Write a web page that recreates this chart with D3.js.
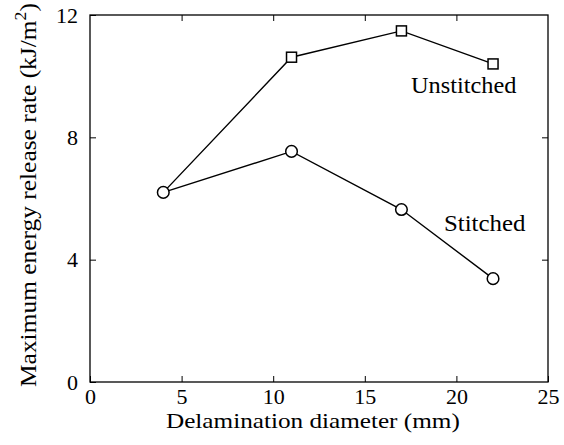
<!DOCTYPE html>
<html>
<head>
<meta charset="utf-8">
<script src="https://cdn.jsdelivr.net/npm/d3@7"></script>
<style>
  html, body { margin: 0; padding: 0; background: #fff; }
  svg { display: block; }
</style>
</head>
<body>
<svg id="chart" width="564" height="445"></svg>
<script>
// Delamination diameter (mm)
const diameters = [4, 11, 17, 22];
// Maximum energy release rate (kJ/m^2)
const unstitched = [6.2, 10.62, 11.48, 10.4];
const stitched = [6.2, 7.54, 5.64, 3.38];
const xTicks = [0, 5, 10, 15, 20, 25];
const yTicks = [0, 4, 8, 12];

const FONT = "'Liberation Serif', 'Times New Roman', Times, serif";
const margin = { left: 90, right: 16, top: 15, bottom: 63 };
const W = 564, H = 445;
const svg = d3.select("#chart").attr("font-family", FONT);

const x = d3.scaleLinear().domain([0, 25]).range([margin.left, W - margin.right]);
const y = d3.scaleLinear().domain([0, 12]).range([H - margin.bottom, margin.top]);

const tickLen = 6;
const axStyle = g => {
  g.attr("font-family", FONT).attr("font-size", 22);
  g.selectAll(".domain").remove();
  g.selectAll("line").attr("stroke", "#000").attr("stroke-width", 1);
  g.selectAll("text").attr("fill", "#000");
};

// stretch a text horizontally (in its own frame) to a given width
function fitWidth(sel, width) {
  const w = sel.node().getBBox().width;
  const bx = +sel.attr("x") || 0;
  const s = width / w;
  sel.attr("transform", `translate(${bx * (1 - s)},0) scale(${s},1)`);
}

// bottom axis with inward ticks
svg.append("g")
  .attr("transform", `translate(0,${y(0)})`)
  .call(d3.axisBottom(x).tickValues(xTicks).tickSizeInner(-tickLen).tickSizeOuter(0).tickPadding(6))
  .call(axStyle);

// top axis (ticks only)
svg.append("g")
  .attr("transform", `translate(0,${y(12)})`)
  .call(d3.axisTop(x).tickValues(xTicks.slice(1, -1)).tickSizeInner(-tickLen).tickSizeOuter(0).tickFormat(""))
  .call(axStyle);

// left axis
svg.append("g")
  .attr("transform", `translate(${x(0)},0)`)
  .call(d3.axisLeft(y).tickValues(yTicks).tickSizeInner(-tickLen).tickSizeOuter(0).tickPadding(12))
  .call(axStyle);

// right axis (ticks only)
svg.append("g")
  .attr("transform", `translate(${x(25)},0)`)
  .call(d3.axisRight(y).tickValues(yTicks.slice(1, -1)).tickSizeInner(-tickLen).tickSizeOuter(0).tickFormat(""))
  .call(axStyle);

// frame
svg.append("rect")
  .attr("x", x(0)).attr("y", y(12))
  .attr("width", x(25) - x(0)).attr("height", y(0) - y(12))
  .attr("fill", "none").attr("stroke", "#000").attr("stroke-width", 1.3);

const line = d3.line().x(d => x(d[0])).y(d => y(d[1]));
const uData = diameters.map((d, i) => [d, unstitched[i]]);
const sData = diameters.map((d, i) => [d, stitched[i]]);

svg.append("path").datum(uData).attr("d", line)
  .attr("fill", "none").attr("stroke", "#000").attr("stroke-width", 1.4);
svg.append("path").datum(sData).attr("d", line)
  .attr("fill", "none").attr("stroke", "#000").attr("stroke-width", 1.4);

// square markers (unstitched); the first sits under the shared circle
const sq = 10;
svg.selectAll("rect.u").data(uData.slice(1)).enter().append("rect")
  .attr("class", "u")
  .attr("x", d => x(d[0]) - sq / 2).attr("y", d => y(d[1]) - sq / 2)
  .attr("width", sq).attr("height", sq)
  .attr("fill", "#fff").attr("stroke", "#000").attr("stroke-width", 1.5);

// circle markers (stitched)
svg.selectAll("circle.s").data(sData).enter().append("circle")
  .attr("class", "s")
  .attr("cx", d => x(d[0])).attr("cy", d => y(d[1])).attr("r", 5.8)
  .attr("fill", "#fff").attr("stroke", "#000").attr("stroke-width", 1.5);

// series labels
const lu = svg.append("text").attr("x", 411).attr("y", 93).attr("font-size", 23).text("Unstitched");
fitWidth(lu, 106);
const ls = svg.append("text").attr("x", 444).attr("y", 231).attr("font-size", 23).text("Stitched");
fitWidth(ls, 82);

// axis titles
const xt = svg.append("text")
  .attr("x", 166).attr("y", 428).attr("font-size", 22)
  .text("Delamination diameter (mm)");
fitWidth(xt, 294);

const ytg = svg.append("g").attr("transform", "translate(36,387) rotate(-90)");
const yt = ytg.append("text").attr("x", 0).attr("y", 0).attr("font-size", 23);
yt.append("tspan").text("Maximum energy release rate (kJ/m");
yt.append("tspan").attr("dy", -10).attr("font-size", 16).text("2");
yt.append("tspan").attr("dy", 10).text(")");
fitWidth(yt, 384);
</script>
</body>
</html>
